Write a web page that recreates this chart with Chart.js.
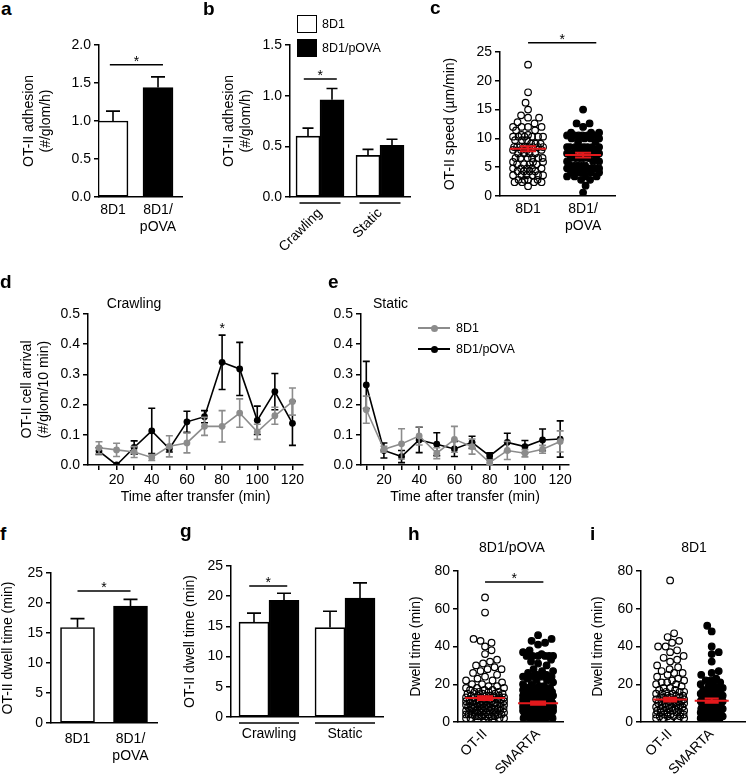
<!DOCTYPE html>
<html>
<head>
<meta charset="utf-8">
<script src="https://cdn.jsdelivr.net/npm/chart.js@4/dist/chart.umd.min.js"></script>
<style>
  html, body { margin: 0; padding: 0; background: #fff; overflow: hidden; }
  body { position: relative; width: 747px; height: 775px; font-family: "Liberation Sans", Arial, sans-serif; color: #000; }
  canvas { position: absolute; }
  .t { position: absolute; white-space: nowrap; line-height: 1; }
  .sq { position: absolute; box-sizing: border-box; border: 1.5px solid #000; }
</style>
</head>
<body>
<script>
// ---- a: adhesion ----
const aCats = ['8D1', ['8D1/', 'pOVA']];
const aMeans = [1.0, 1.44];
const aErr = [0.13, 0.14];

// ---- b: adhesion by behaviour ----
const bCats = ['Crawling', 'Static'];
const b8D1 = [0.60, 0.41];
const b8D1Err = [0.08, 0.06];
const bPova = [0.96, 0.51];
const bPovaErr = [0.11, 0.06];

// ---- c: speed ----
const cCats = ['8D1', ['8D1/', 'pOVA']];
const c8D1 = [22.8, 18.0, 16.2, 15.0, 14.0, 13.6, 13.6, 12.8, 12.6, 12.0, 12.0, 12.0, 12.0, 11.4, 11.4,
  10.6, 10.6, 10.3, 10.3, 10.3, 10.3, 10.3, 10.3, 9.7, 9.7, 9.7, 9.1, 9.1, 9.1, 8.5, 8.5, 8.5, 8.5, 8.5,
  8.5, 8.5, 8.5, 8.5, 8.0, 8.0, 8.0, 8.0, 7.4, 7.4, 7.4, 7.4, 6.6, 6.6, 6.6, 6.6, 6.6, 6.6, 5.9, 5.9, 5.9,
  5.5, 5.5, 5.5, 5.5, 4.8, 4.8, 4.8, 4.8, 4.8, 4.3, 4.3, 4.3, 4.3, 3.6, 3.6, 3.6, 3.6, 3.6, 3.6, 2.8, 2.8,
  2.8, 2.8, 2.4, 2.4, 2.4, 2.4, 1.7];
const cPova = [15.0, 12.6, 12.6, 12.0, 11.0, 11.0, 11.0, 10.5, 10.5, 10.5, 10.5, 10.5, 10.5, 10.0, 10.0,
  10.0, 10.0, 9.4, 9.4, 8.5, 8.5, 8.5, 8.5, 8.5, 8.5, 8.5, 8.5, 8.0, 8.0, 8.0, 7.4, 7.4, 7.4, 7.4, 7.4,
  6.6, 6.6, 6.6, 6.6, 6.6, 6.6, 6.0, 6.0, 6.0, 5.3, 5.3, 5.3, 5.3, 4.8, 4.8, 4.8, 4.8, 4.8, 4.8, 4.8, 4.8,
  4.1, 4.1, 4.1, 4.1, 4.1, 4.1, 3.4, 3.4, 3.4, 3.4, 2.8, 2.8, 1.8, 0.6];
const cMean = [8.2, 7.1];
const cSem = [0.45, 0.4];

// ---- d, e: arrival over time ----
const times = [10, 20, 30, 40, 50, 60, 70, 80, 90, 100, 110, 120];
const dGray = [0.057, 0.050, 0.043, 0.025, 0.062, 0.073, 0.128, 0.128, 0.172, 0.110, 0.163, 0.210];
const dGrayErr = [0.020, 0.022, 0.018, 0.010, 0.035, 0.033, 0.030, 0.052, 0.047, 0.025, 0.028, 0.045];
const dBlack = [0.046, 0.000, 0.058, 0.113, 0.054, 0.143, 0.160, 0.340, 0.318, 0.148, 0.243, 0.138];
const dBlackErr = [0.011, 0, 0.022, 0.075, 0.011, 0.035, 0.020, 0.090, 0.088, 0.047, 0.060, 0.073];
const eGray = [0.183, 0.052, 0.070, 0.096, 0.039, 0.085, 0.061, 0.008, 0.048, 0.039, 0.052, 0.078];
const eGrayErr = [0.045, 0.010, 0.050, 0.030, 0.018, 0.043, 0.025, 0.008, 0.030, 0.012, 0.013, 0.035];
const eBlack = [0.265, 0.048, 0.028, 0.083, 0.069, 0.053, 0.075, 0.030, 0.075, 0.061, 0.083, 0.086];
const eBlackErr = [0.078, 0.025, 0.020, 0.042, 0.038, 0.025, 0.020, 0.010, 0.030, 0.020, 0.036, 0.060];

// ---- f, g: dwell time ----
const fCats = ['8D1', ['8D1/', 'pOVA']];
const fMeans = [15.9, 19.5];
const fErr = [1.5, 1.1];
const gCats = ['Crawling', 'Static'];
const g8D1 = [15.7, 14.8];
const g8D1Err = [1.5, 2.7];
const gPova = [19.3, 19.7];
const gPovaErr = [1.2, 2.5];

// ---- h, i: dwell time per cell ----
const dwellCats = ['OT-II', 'SMARTA'];
const hOT2 = [66, 58, 44, 43, 42, 40, 38, 36, 33, 32, 31, 30, 29, 28, 28, 27, 26, 25, 24, 23, 22, 22, 21, 20, 20,
  19, 19, 18, 18, 18, 17, 17, 17, 16, 16, 16, 16, 15, 15, 15, 15, 14, 14, 14, 14, 14, 13, 13, 13, 13, 13,
  12, 12, 12, 12, 12, 12, 11, 11, 11, 11, 11, 11, 10, 10, 10, 10, 10, 10, 10, 9, 9, 9, 9, 9, 9, 9,
  8, 8, 8, 8, 8, 8, 8, 7, 7, 7, 7, 7, 7, 7, 6, 6, 6, 6, 6, 6, 6, 5, 5, 5, 5, 5, 5, 5,
  4, 4, 4, 4, 4, 4, 4, 3, 3, 3, 3, 3, 3, 2, 2, 2, 2, 2, 1, 1, 1];
const hSmarta = [46, 44, 43, 42, 41, 38, 37, 36, 35, 35, 35, 35, 35, 35, 33, 32, 31, 30, 28, 27, 27, 26, 25, 25,
  24, 24, 24, 24, 23, 22, 22, 21, 20, 20,
  19, 19, 18, 18, 18, 17, 17, 17, 16, 16, 16, 15, 15, 15, 15, 14, 14, 14, 14, 13, 13, 13, 13,
  12, 12, 12, 12, 11, 11, 11, 11, 11, 10, 10, 10, 10, 10, 9, 9, 9, 9, 9, 8, 8, 8, 8, 8, 8,
  7, 7, 7, 7, 7, 6, 6, 6, 6, 6, 6, 5, 5, 5, 5, 5, 4, 4, 4, 4, 4, 3, 3, 3, 3, 3, 2, 2, 2, 2, 1, 1, 1];
const hMean = [12.7, 10.0];
const hSem = [1.0, 0.8];
const iOT2 = [75, 47, 45, 43, 42, 40, 40, 38, 37, 35, 34, 33, 32, 30, 29, 28, 27, 26, 26, 25, 24, 23, 22, 22,
  21, 21, 20, 20,
  19, 18, 18, 17, 17, 16, 16, 16, 15, 15, 15, 14, 14, 14, 13, 13, 13, 13, 12, 12, 12, 12, 11, 11, 11, 11,
  10, 10, 10, 10, 9, 9, 9, 9, 8, 8, 8, 8, 7, 7, 7, 7, 6, 6, 6, 6, 5, 5, 5, 5, 4, 4, 4, 4, 3, 3, 3, 3,
  2, 2, 2, 1, 1];
const iSmarta = [51, 48, 40, 37, 36, 32, 27, 26, 25, 23, 22, 22, 21, 20, 20,
  19, 18, 18, 17, 17, 16, 16, 15, 15, 15, 14, 14, 14, 13, 13, 13, 12, 12, 12, 11, 11, 11, 10, 10, 10, 10,
  9, 9, 9, 8, 8, 8, 8, 7, 7, 7, 6, 6, 6, 6, 5, 5, 5, 5, 4, 4, 4, 4, 3, 3, 3, 2, 2, 2, 1, 1];
const iMean = [11.9, 11.3];
const iSem = [1.0, 1.1];

const FONT = '"Liberation Sans", Arial, sans-serif';
const GRAY = '#8c8c8c';
const RED = '#e3191c';

Chart.defaults.font.family = FONT;
Chart.defaults.font.size = 14;
Chart.defaults.color = '#000';
Chart.defaults.animation = false;
Chart.defaults.events = [];
Chart.defaults.plugins.legend.display = false;
Chart.defaults.plugins.tooltip.enabled = false;

// error bars, drawn per dataset so that layering follows dataset order
const errorBars = {
  id: 'errorBars',
  afterDatasetDraw(chart, args) {
    const ds = chart.data.datasets[args.index];
    if (!ds.errors) return;
    const { ctx } = chart;
    const yS = chart.scales.y;
    const half = (ds.capWidth || 8) / 2;
    ctx.save();
    ctx.strokeStyle = ds.errorColor || '#000';
    ctx.lineWidth = 1.6;
    args.meta.data.forEach((el, i) => {
      const err = ds.errors[i];
      if (!err) return;
      const v = ds.data[i].y;
      const x = el.x;
      const top = yS.getPixelForValue(v + err);
      const bot = yS.getPixelForValue(ds.errorBoth ? v - err : v);
      ctx.beginPath();
      ctx.moveTo(x, bot); ctx.lineTo(x, top);
      ctx.moveTo(x - half, top); ctx.lineTo(x + half, top);
      if (ds.errorBoth) { ctx.moveTo(x - half, bot); ctx.lineTo(x + half, bot); }
      ctx.stroke();
    });
    ctx.restore();
  }
};

// significance bar with asterisk
const sigBar = {
  id: 'sig',
  afterDraw(chart, args, o) {
    if (o.y === undefined) return;
    const { ctx, scales: { x, y } } = chart;
    const py = y.getPixelForValue(o.y);
    const x0 = x.getPixelForValue(o.from);
    const x1 = x.getPixelForValue(o.to);
    ctx.save();
    if (o.line !== false) {
      ctx.strokeStyle = '#000';
      ctx.lineWidth = 1.5;
      ctx.beginPath(); ctx.moveTo(x0, py); ctx.lineTo(x1, py); ctx.stroke();
    }
    ctx.fillStyle = '#000';
    ctx.font = '14px ' + FONT;
    ctx.textAlign = 'center';
    ctx.textBaseline = 'alphabetic';
    ctx.fillText('*', (x0 + x1) / 2, py + 1);
    ctx.restore();
  }
};

// red mean +/- SEM over the dot plots
const meanSem = {
  id: 'meanSem',
  afterDatasetsDraw(chart, args, o) {
    if (!o.means) return;
    const { ctx, scales: { x, y } } = chart;
    ctx.save();
    ctx.strokeStyle = RED;
    ctx.lineWidth = 2;
    o.means.forEach((m, i) => {
      const cx = x.getPixelForValue(i);
      const py = y.getPixelForValue(m);
      const top = y.getPixelForValue(m + o.sems[i]);
      const bot = y.getPixelForValue(m - o.sems[i]);
      ctx.beginPath();
      ctx.moveTo(cx - o.half, py); ctx.lineTo(cx + o.half, py);
      ctx.moveTo(cx, top); ctx.lineTo(cx, bot);
      ctx.moveTo(cx - o.cap, top); ctx.lineTo(cx + o.cap, top);
      ctx.moveTo(cx - o.cap, bot); ctx.lineTo(cx + o.cap, bot);
      ctx.stroke();
    });
    ctx.restore();
  }
};

// short lines under each bar group
const groupLines = {
  id: 'groupLines',
  afterDraw(chart, args, o) {
    if (!o.half) return;
    const { ctx, chartArea, scales: { x } } = chart;
    const py = chartArea.bottom + o.gap;
    ctx.save();
    ctx.strokeStyle = '#000';
    ctx.lineWidth = 1.5;
    for (let i = 0; i < o.count; i++) {
      const cx = x.getPixelForValue(i);
      ctx.beginPath(); ctx.moveTo(cx - o.half, py); ctx.lineTo(cx + o.half, py); ctx.stroke();
    }
    ctx.restore();
  }
};

Chart.register(errorBars, sigBar, meanSem, groupLines);

function text(str, x, baseline, size, o = {}) {
  const el = document.createElement('div');
  el.className = 't';
  el.textContent = str;
  el.style.fontSize = size + 'px';
  el.style.left = x + 'px';
  el.style.top = (baseline - 0.8465 * size) + 'px';
  if (o.bold) el.style.fontWeight = 'bold';
  if (o.center) el.style.transform = 'translateX(-50%)';
  document.body.appendChild(el);
  return el;
}

function box(l, t, w, h, css) {
  const el = document.createElement('div');
  el.style.position = 'absolute';
  el.style.left = l + 'px';
  el.style.top = t + 'px';
  el.style.width = w + 'px';
  el.style.height = h + 'px';
  Object.assign(el.style, css);
  document.body.appendChild(el);
  return el;
}

function makeCanvas(b) {
  const c = document.createElement('canvas');
  c.width = b.r - b.l;
  c.height = b.b - b.t;
  c.style.left = b.l + 'px';
  c.style.top = b.t + 'px';
  document.body.appendChild(c);
  return c;
}

// pins the plot area to page coordinates
function frame(b, area) {
  return {
    padding: { left: 0, top: area.t - b.t, right: b.r - area.r, bottom: 0 },
    yWidth: area.l - b.l,
    xHeight: b.b - area.b
  };
}

function valueAxis(fr, o) {
  return {
    type: 'linear',
    min: o.min,
    max: o.max,
    afterFit: (s) => { s.width = fr.yWidth; },
    ticks: { stepSize: o.step, padding: 3, callback: o.fmt || ((v) => v) },
    grid: { drawOnChartArea: false, drawTicks: true, tickLength: 5, color: '#000', lineWidth: 1.5 },
    border: { display: true, color: '#000', width: 1.5 },
    title: {
      display: !!o.title,
      text: o.title || '',
      font: { size: 14 },
      padding: { top: o.titlePad || 0, bottom: 0 }
    }
  };
}

function catAxis(fr, cats, o) {
  return {
    type: 'linear',
    min: o.min,
    max: o.max,
    offset: false,
    afterFit: (s) => { s.height = fr.xHeight; },
    afterBuildTicks: (s) => { s.ticks = cats.map((c, i) => ({ value: i })); },
    ticks: {
      autoSkip: false,
      padding: o.pad,
      maxRotation: o.rot || 0,
      minRotation: o.rot || 0,
      callback: (v) => cats[v]
    },
    grid: { display: false, drawTicks: false },
    border: { display: true, color: '#000', width: 1.5 }
  };
}

const toXY = (vals) => vals.map((v, i) => ({ x: i, y: v }));
const oneDecimal = (v) => v.toFixed(1);

function barChart(b, area, o) {
  const fr = frame(b, area);
  return new Chart(makeCanvas(b), {
    type: 'bar',
    data: { datasets: o.datasets },
    options: {
      responsive: false,
      layout: { padding: fr.padding },
      scales: { x: catAxis(fr, o.cats, o.x), y: valueAxis(fr, o.y) },
      plugins: o.plugins || {}
    }
  });
}

function beeswarm(ys, d, maxHalf) {
  const order = ys.map((_, i) => i).sort((a, b) => ys[b] - ys[a]);
  const placed = [];
  const offs = [];
  order.forEach((i, n) => {
    const y = ys[i];
    const near = placed.filter((p) => Math.abs(p.y - y) < d);
    let best = 0;
    let bestScore = -1;
    for (let s = 0; s <= maxHalf && bestScore !== Infinity; s += 0.5) {
      const cands = s === 0 ? [0] : (n % 2 ? [s, -s] : [-s, s]);
      for (const c of cands) {
        let m = Infinity;
        for (const p of near) m = Math.min(m, Math.hypot(p.x - c, p.y - y));
        if (m >= d) { best = c; bestScore = Infinity; break; }
        if (m > bestScore) { bestScore = m; best = c; }
      }
    }
    offs[i] = best;
    placed.push({ x: best, y });
  });
  return offs;
}

function swarmChart(b, area, o) {
  const fr = frame(b, area);
  const radius = 3.3;
  const chart = new Chart(makeCanvas(b), {
    type: 'scatter',
    data: {
      datasets: o.groups.map((vals, g) => ({
        data: vals.map((v) => ({ x: g, y: v })),
        pointRadius: radius,
        pointBorderWidth: 1.2,
        pointBorderColor: '#000',
        pointBackgroundColor: g === 0 ? 'rgba(0,0,0,0)' : '#000'
      }))
    },
    options: {
      responsive: false,
      layout: { padding: fr.padding },
      scales: { x: catAxis(fr, o.cats, o.x), y: valueAxis(fr, o.y) },
      plugins: o.plugins || {}
    }
  });
  const xS = chart.scales.x;
  const yS = chart.scales.y;
  const perUnit = xS.getPixelForValue(1) - xS.getPixelForValue(0);
  o.groups.forEach((vals, g) => {
    const offs = beeswarm(vals.map((v) => yS.getPixelForValue(v)), radius * 2 + 0.6, o.spread[g]);
    chart.data.datasets[g].data = vals.map((v, k) => ({ x: g + offs[k] / perUnit, y: v }));
  });
  chart.update('none');
  return chart;
}

function timeChart(b, area, o) {
  const fr = frame(b, area);
  const series = (vals, errs, color) => ({
    data: times.map((t, i) => ({ x: t, y: vals[i] })),
    errors: errs,
    errorBoth: true,
    errorColor: color,
    capWidth: 7,
    borderColor: color,
    borderWidth: 1.6,
    pointRadius: 3.4,
    pointBorderWidth: 0,
    pointBackgroundColor: color,
    tension: 0
  });
  return new Chart(makeCanvas(b), {
    type: 'line',
    data: { datasets: [series(o.gray, o.grayErr, GRAY), series(o.black, o.blackErr, '#000')] },
    options: {
      responsive: false,
      layout: { padding: fr.padding },
      scales: {
        x: {
          type: 'linear',
          min: o.xMin,
          max: o.xMax,
          afterFit: (s) => { s.height = fr.xHeight; },
          afterBuildTicks: (s) => { s.ticks = times.map((t) => ({ value: t })); },
          ticks: { autoSkip: false, padding: 2, maxRotation: 0, callback: (v) => (v % 20 === 0 ? String(v) : '') },
          grid: { drawOnChartArea: false, drawTicks: true, tickLength: 5, color: '#000', lineWidth: 1.5 },
          border: { display: true, color: '#000', width: 1.5 },
          title: { display: true, text: 'Time after transfer (min)', font: { size: 14 }, padding: { top: 0, bottom: 4 } }
        },
        y: valueAxis(fr, { min: 0, max: 0.5, step: 0.1, fmt: oneDecimal, title: o.yTitle, titlePad: o.yTitlePad })
      },
      plugins: o.plugins || {}
    }
  });
}

// ---------- a ----------
barChart({ l: 0, t: 20, r: 200, b: 245 }, { l: 99, t: 45, r: 182, b: 197 }, {
  cats: aCats,
  x: { min: -0.311, max: 1.533, pad: 5 },
  y: { min: 0, max: 2, step: 0.5, fmt: oneDecimal, title: ['OT-II adhesion', '(#/glom/h)'], titlePad: 21 },
  datasets: [{
    data: toXY(aMeans), errors: aErr, capWidth: 14,
    backgroundColor: ['#fff', '#000'], borderColor: '#000', borderWidth: 1.6, borderSkipped: false, barThickness: 30
  }],
  plugins: { sig: { from: -0.07, to: 1.11, y: 1.74 } }
});

// ---------- b ----------
barChart({ l: 200, t: 20, r: 430, b: 260 }, { l: 290, t: 45, r: 410, b: 197 }, {
  cats: bCats,
  x: { min: -0.5, max: 1.5, pad: 8, rot: 45 },
  y: { min: 0, max: 1.5, step: 0.5, fmt: oneDecimal, title: ['OT-II adhesion', '(#/glom/h)'], titlePad: 21 },
  datasets: [
    { data: toXY(b8D1), errors: b8D1Err, capWidth: 11, backgroundColor: '#fff', borderColor: '#000', borderWidth: 1.6, borderSkipped: false, barThickness: 24 },
    { data: toXY(bPova), errors: bPovaErr, capWidth: 11, backgroundColor: '#000', borderColor: '#000', borderWidth: 1.6, borderSkipped: false, barThickness: 24 }
  ],
  plugins: { sig: { from: -0.27, to: 0.28, y: 1.165 }, groupLines: { half: 20.5, gap: 6, count: 2 } }
});
box(297, 15, 20, 18, { boxSizing: 'border-box', border: '1.5px solid #000', background: '#fff' });
box(297, 39, 20, 18, { boxSizing: 'border-box', border: '1.5px solid #000', background: '#000' });
text('8D1', 322, 29, 12.5);
text('8D1/pOVA', 322, 53, 12.5);

// ---------- c ----------
swarmChart({ l: 430, t: 20, r: 640, b: 245 }, { l: 500, t: 52, r: 615, b: 196 }, {
  cats: cCats,
  groups: [c8D1, cPova],
  spread: [15, 16],
  x: { min: -0.51, max: 1.58, pad: 5 },
  y: { min: 0, max: 25, step: 5, title: 'OT-II speed (\u00b5m/min)', titlePad: 12 },
  plugins: { sig: { from: 0, to: 1.24, y: 26.6 }, meanSem: { means: cMean, sems: cSem, half: 18, cap: 8 } }
});

// ---------- d ----------
timeChart({ l: 0, t: 285, r: 330, b: 510 }, { l: 88, t: 314, r: 303, b: 465 }, {
  gray: dGray, grayErr: dGrayErr, black: dBlack, blackErr: dBlackErr,
  xMin: 3.75, xMax: 126,
  yTitle: ['OT-II cell arrival', '(#/glom/10 min)'], yTitlePad: 19,
  plugins: { sig: { from: 80, to: 80, y: 0.44, line: false } }
});

// ---------- e ----------
timeChart({ l: 325, t: 285, r: 600, b: 510 }, { l: 361, t: 314, r: 569, b: 465 }, {
  gray: eGray, grayErr: eGrayErr, black: eBlack, blackErr: eBlackErr,
  xMin: 7, xMax: 125
});
box(418, 327.2, 32, 1.6, { background: GRAY });
box(430.5, 324.5, 7, 7, { background: GRAY, borderRadius: '50%' });
box(418, 348.2, 32, 1.6, { background: '#000' });
box(430.5, 345.5, 7, 7, { background: '#000', borderRadius: '50%' });
text('8D1', 456, 332.5, 12.5);
text('8D1/pOVA', 456, 353.5, 12.5);

// ---------- f ----------
barChart({ l: 0, t: 545, r: 180, b: 775 }, { l: 51, t: 573, r: 157, b: 723 }, {
  cats: fCats,
  x: { min: -0.5, max: 1.5, pad: 8 },
  y: { min: 0, max: 25, step: 5, title: 'OT-II dwell time (min)', titlePad: 0 },
  datasets: [{
    data: toXY(fMeans), errors: fErr, capWidth: 14,
    backgroundColor: ['#fff', '#000'], borderColor: '#000', borderWidth: 1.6, borderSkipped: false, barThickness: 34
  }],
  plugins: { sig: { from: 0, to: 1, y: 22 } }
});

// ---------- g ----------
barChart({ l: 175, t: 540, r: 400, b: 775 }, { l: 231, t: 566, r: 383, b: 717 }, {
  cats: gCats,
  x: { min: -0.5, max: 1.5, pad: 9 },
  y: { min: 0, max: 25, step: 5, title: 'OT-II dwell time (min)', titlePad: 7 },
  datasets: [
    { data: toXY(g8D1), errors: g8D1Err, capWidth: 14, backgroundColor: '#fff', borderColor: '#000', borderWidth: 1.6, borderSkipped: false, barThickness: 30 },
    { data: toXY(gPova), errors: gPovaErr, capWidth: 14, backgroundColor: '#000', borderColor: '#000', borderWidth: 1.6, borderSkipped: false, barThickness: 30 }
  ],
  plugins: { sig: { from: -0.26, to: 0.24, y: 21.7 }, groupLines: { half: 30, gap: 6, count: 2 } }
});

// ---------- h ----------
swarmChart({ l: 400, t: 545, r: 580, b: 775 }, { l: 458, t: 571, r: 563, b: 722 }, {
  cats: dwellCats,
  groups: [hOT2, hSmarta],
  spread: [19, 15],
  x: { min: -0.51, max: 1.47, pad: 4, rot: 45 },
  y: { min: 0, max: 80, step: 20, title: 'Dwell time (min)', titlePad: 8 },
  plugins: { sig: { from: 0, to: 1.1, y: 74.2 }, meanSem: { means: hMean, sems: hSem, half: 20, cap: 8 } }
});

// ---------- i ----------
swarmChart({ l: 585, t: 545, r: 770, b: 775 }, { l: 641, t: 571, r: 745, b: 722 }, {
  cats: dwellCats,
  groups: [iOT2, iSmarta],
  spread: [14, 11],
  x: { min: -0.7, max: 1.8, pad: 4, rot: 45 },
  y: { min: 0, max: 80, step: 20, title: 'Dwell time (min)', titlePad: 5 },
  plugins: { meanSem: { means: iMean, sems: iSem, half: 17, cap: 7 } }
});

// panel letters and titles
text('a', 1, 15, 19, { bold: true });
text('b', 203, 15, 19, { bold: true });
text('c', 430, 14, 19, { bold: true });
text('d', 0, 288, 19, { bold: true });
text('e', 328, 288, 19, { bold: true });
text('f', 0, 540, 19, { bold: true });
text('g', 180, 537, 19, { bold: true });
text('h', 408, 540, 19, { bold: true });
text('i', 590, 540, 19, { bold: true });
text('Crawling', 134, 308, 14, { center: true });
text('Static', 373, 308, 14);
text('8D1/pOVA', 512, 552, 14, { center: true });
text('8D1', 694, 552, 14, { center: true });
</script>
</body>
</html>
